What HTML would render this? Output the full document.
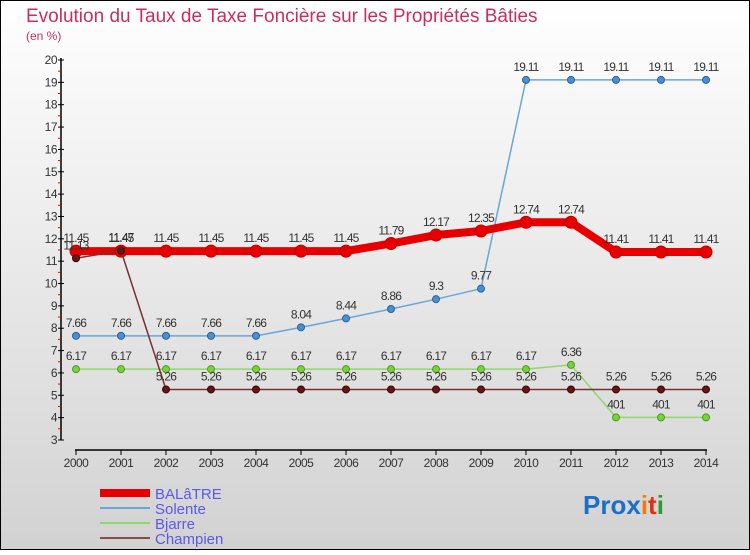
<!DOCTYPE html>
<html><head><meta charset="utf-8"><style>
body{margin:0}
#c{width:750px;height:550px;position:relative;font-family:"Liberation Sans",sans-serif}
svg text{font-family:"Liberation Sans",sans-serif}
</style></head><body>
<div id="c">
<svg id="s" width="750" height="550" xmlns="http://www.w3.org/2000/svg">
<defs><linearGradient id="bg" x1="0" y1="0" x2="0" y2="1"><stop offset="0" stop-color="#ffffff"/><stop offset="1" stop-color="#d2d2d2"/></linearGradient></defs>
<rect x="0.5" y="0.5" width="749" height="549" fill="url(#bg)" stroke="#000"/>
<text x="26" y="22" font-size="19" fill="#c8305a">Evolution du Taux de Taxe Foncière sur les Propriétés Bâties</text>
<text x="26" y="40" font-size="12" fill="#c8305a">(en %)</text>
<g id="axes"></g><g id="series"></g><g id="legend"></g>
<text x="583" y="514" font-size="26" font-weight="bold" fill="#1a6fc9">Pro<tspan fill="#1a6fc9">x</tspan><tspan fill="#f07c10">i</tspan><tspan fill="#e03010">t</tspan><tspan fill="#2a9a3a">i</tspan></text>
</svg></div>
<script>
const years=[2000,2001,2002,2003,2004,2005,2006,2007,2008,2009,2010,2011,2012,2013,2014];
const yTicks=[3,4,5,6,7,8,9,10,11,12,13,14,15,16,17,18,19,20];
const balatre=[11.45,11.45,11.45,11.45,11.45,11.45,11.45,11.79,12.17,12.35,12.74,12.74,11.41,11.41,11.41];
const solente=[7.66,7.66,7.66,7.66,7.66,8.04,8.44,8.86,9.3,9.77,19.11,19.11,19.11,19.11,19.11];
const bjarre=[6.17,6.17,6.17,6.17,6.17,6.17,6.17,6.17,6.17,6.17,6.17,6.36,4.01,4.01,4.01];
const champien=[11.13,11.47,5.26,5.26,5.26,5.26,5.26,5.26,5.26,5.26,5.26,5.26,5.26,5.26,5.26];
const NS="http://www.w3.org/2000/svg";
const X=i=>76+i*45;
const Y=v=>440-(v-3)*(380/17);
function mk(tag,attrs,parent,text){const e=document.createElementNS(NS,tag);for(const k in attrs)e.setAttribute(k,attrs[k]);if(text!==undefined)e.textContent=text;parent.appendChild(e);return e;}
const ax=document.getElementById('axes');
let a=mk('line',{x1:61,y1:58,x2:61,y2:440,stroke:'#000','stroke-width':1.5},ax);


a=mk('line',{x1:75,y1:450,x2:707,y2:450,stroke:'#000','stroke-width':1.5},ax);


yTicks.forEach(v=>{
  const y=Y(v);
  mk('line',{x1:58,y1:y,x2:64,y2:y,stroke:'#000'},ax);
  if(v<20)mk('line',{x1:58,y1:y-11.2,x2:61,y2:y-11.2,stroke:'#e00'},ax);
  const t=mk('text',{x:57,y:y+4,'font-size':12,fill:'#333','text-anchor':'end','letter-spacing':'-0.5'},ax,String(v));
  
  
});
years.forEach((yr,i)=>{
  mk('line',{x1:X(i),y1:450,x2:X(i),y2:455,stroke:'#000'},ax);
  const t=mk('text',{x:X(i),y:467,'font-size':12,fill:'#333','text-anchor':'middle','letter-spacing':'-0.5'},ax,String(yr));
  
  
});
const sg=document.getElementById('series');
function fmt(v){let s=v.toFixed(2);if(s.endsWith('0'))s=v.toFixed(1).replace(/\.0$/,'');if(v<5&&v>4)s=String(Math.round(v*100));return s;}
function draw(vals,name,lc,w,pc,pr,pstroke){
  const g=mk('g',{},sg);
  
  
  const p=mk('polyline',{points:vals.map((v,i)=>X(i)+','+Y(v)).join(' '),fill:'none',stroke:lc,'stroke-width':w,'stroke-linejoin':'round'},g);
  
  
  vals.forEach((v,i)=>{
    const c=mk('circle',{cx:X(i),cy:Y(v),r:pr,fill:pc,stroke:pstroke,'stroke-width':1},g);
    
    
    const t=mk('text',{x:X(i),y:Y(v)-9,'font-size':12,fill:'#333','text-anchor':'middle','letter-spacing':'-0.8'},g,fmt(v));
    
    
  });
}
draw(bjarre,'bjarre','#8fd86a',1.5,'#7cd040',3.5,'#4a9a20');
draw(solente,'solente','#6aa5d8',1.5,'#4a90d0',3.5,'#2a609a');
draw(balatre,'balatre','#e80000',8,'#e80000',6,'#c00000');
draw(champien,'champien','#7a3030',1.5,'#601818',3.5,'#400');
const lg=document.getElementById('legend');
[['BALâTRE','#e80000',8],['Solente','#6aa5d8',2],['Bjarre','#8fd86a',2],['Champien','#8a4a4a',2]].forEach((d,i)=>{
  const y=493+i*15;
  const l=mk('line',{x1:100,y1:y,x2:150,y2:y,stroke:d[1],'stroke-width':d[2]},lg);
  
  
  const t=mk('text',{x:155,y:y+6,'font-size':15,fill:'#5a5ae8'},lg,d[0]);
  
  
});
</script>
</body></html>
